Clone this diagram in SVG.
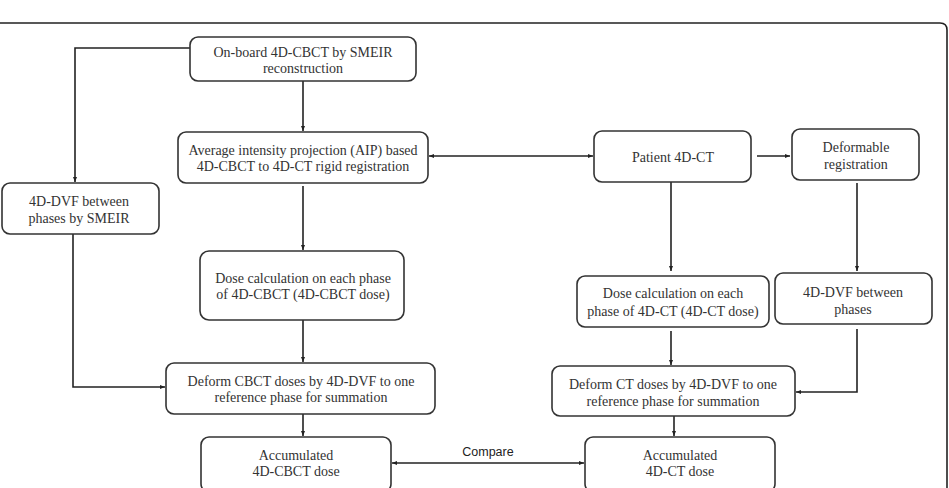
<svg xmlns="http://www.w3.org/2000/svg" width="949" height="488" viewBox="0 0 949 488">
<style>
.box{fill:#fff;stroke:#333;stroke-width:1.6}
.t{font-family:"Liberation Serif","Times New Roman",serif;font-size:14px;fill:#333;text-anchor:middle}
.c{fill:none;stroke:#222;stroke-width:1.6}
.lbl{font-family:"Liberation Sans",Arial,sans-serif;font-size:12.5px;fill:#222;text-anchor:middle}
</style>
<defs>
<marker id="ah" viewBox="0 0 10 10" refX="10" refY="5" markerWidth="5" markerHeight="5" orient="auto-start-reverse" markerUnits="userSpaceOnUse">
<path d="M0,1 L10,5 L0,9 Z" fill="#222"/>
</marker>
</defs>
<rect width="949" height="488" fill="#fff"/>
<path d="M0,23 H940 Q947,23 947,30 V488" fill="none" stroke="#222" stroke-width="1.6"/>
<g id="connectors">
<path class="c" d="M190,48 H75 V182" marker-end="url(#ah)"/>
<path class="c" d="M303,81 V131" marker-end="url(#ah)"/>
<path class="c" d="M303,186 V250" marker-end="url(#ah)"/>
<path class="c" d="M303,320 V362" marker-end="url(#ah)"/>
<path class="c" d="M73,234 V387 H165" marker-end="url(#ah)"/>
<path class="c" d="M303,414 V436" marker-end="url(#ah)"/>
<path class="c" d="M429,156 H593" marker-start="url(#ah)" marker-end="url(#ah)"/>
<path class="c" d="M757,156 H790" marker-end="url(#ah)"/>
<path class="c" d="M671,182 V271" marker-end="url(#ah)"/>
<path class="c" d="M857,183 V271" marker-end="url(#ah)"/>
<path class="c" d="M671,331 V365" marker-end="url(#ah)"/>
<path class="c" d="M857,329 V392 H796" marker-end="url(#ah)"/>
<path class="c" d="M674,416 V436" marker-end="url(#ah)"/>
<path class="c" d="M392,463 H584" marker-start="url(#ah)" marker-end="url(#ah)"/>
<text class="lbl" x="488" y="456">Compare</text>
</g>
<g id="onboard">
<rect class="box" x="190" y="37" width="226" height="44" rx="8"/>
<text class="t" x="303" y="57">On-board 4D-CBCT by SMEIR</text>
<text class="t" x="303" y="73">reconstruction</text>
</g>
<g id="aip">
<rect class="box" x="178" y="132" width="250" height="51" rx="8"/>
<text class="t" x="303" y="155">Average intensity projection (AIP) based</text>
<text class="t" x="303" y="171">4D-CBCT to 4D-CT rigid registration</text>
</g>
<g id="dvf-smeir">
<rect class="box" x="2" y="183" width="157" height="51" rx="8"/>
<text class="t" x="79" y="206">4D-DVF between</text>
<text class="t" x="79" y="223">phases by SMEIR</text>
</g>
<g id="dose-cbct">
<rect class="box" x="200" y="251" width="204" height="69" rx="9"/>
<text class="t" x="303" y="283">Dose calculation on each phase</text>
<text class="t" x="303" y="299">of 4D-CBCT (4D-CBCT dose)</text>
</g>
<g id="deform-cbct">
<rect class="box" x="166" y="363" width="269" height="51" rx="8"/>
<text class="t" x="301" y="386">Deform CBCT doses by 4D-DVF to one</text>
<text class="t" x="301" y="402">reference phase for summation</text>
</g>
<g id="acc-cbct">
<rect class="box" x="201" y="437" width="190" height="55" rx="8"/>
<text class="t" x="296" y="460">Accumulated</text>
<text class="t" x="296" y="476">4D-CBCT dose</text>
</g>
<g id="patient">
<rect class="box" x="594" y="131" width="157" height="51" rx="8"/>
<text class="t" x="673" y="162">Patient 4D-CT</text>
</g>
<g id="deformable">
<rect class="box" x="792" y="129" width="127" height="51" rx="8"/>
<text class="t" x="856" y="152">Deformable</text>
<text class="t" x="856" y="169">registration</text>
</g>
<g id="dose-ct">
<rect class="box" x="577" y="276" width="192" height="51" rx="8"/>
<text class="t" x="673" y="298">Dose calculation on each</text>
<text class="t" x="673" y="316">phase of 4D-CT (4D-CT dose)</text>
</g>
<g id="dvf-ct">
<rect class="box" x="775" y="273" width="157" height="51" rx="8"/>
<text class="t" x="853" y="297">4D-DVF between</text>
<text class="t" x="853" y="314">phases</text>
</g>
<g id="deform-ct">
<rect class="box" x="552" y="366" width="243" height="50" rx="8"/>
<text class="t" x="673" y="389">Deform CT doses by 4D-DVF to one</text>
<text class="t" x="673" y="406">reference phase for summation</text>
</g>
<g id="acc-ct">
<rect class="box" x="585" y="437" width="190" height="55" rx="8"/>
<text class="t" x="680" y="460">Accumulated</text>
<text class="t" x="680" y="476">4D-CT dose</text>
</g>
</svg>
